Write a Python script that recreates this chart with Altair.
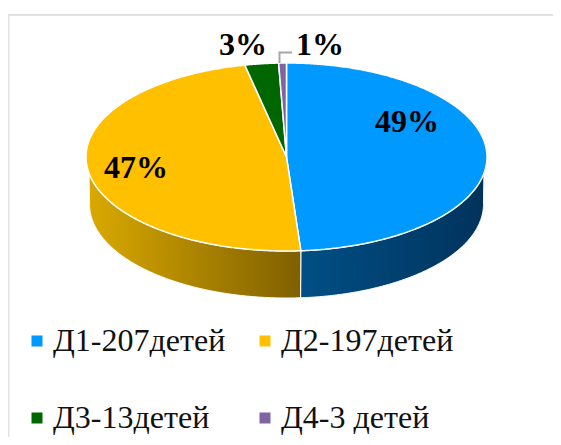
import math
import altair as alt

names = ["Д1-207детей", "Д2-197детей", "Д3-13детей", "Д4-3 детей"]
counts = [207, 197, 13, 3]
percents = ["49%", "47%", "3%", "1%"]
colors = ["#0099FF", "#FFC000", "#006600", "#8064A2"]
legend_order = [names[0], names[2], names[1], names[3]]

W, H = 545, 429
CX, CY = 286.5 - 8, 157 - 8
RX, RY, DEPTH = 200.5, 94, 47
RX_LOW = 197
SCREEN_EDGES = [0, 175.9, 348]


def px(x, y):
    return [x - 8 - CX, -(y - 8 - CY)]


total = sum(counts)
cum = [0]
for c in counts:
    cum.append(cum[-1] + c / total * 360)


def warp(a):
    src = [cum[0], cum[1], cum[2], 360]
    dst = SCREEN_EDGES + [360]
    for i in range(3):
        if a <= src[i + 1]:
            return dst[i] + (a - src[i]) * (dst[i + 1] - dst[i]) / (src[i + 1] - src[i])
    return 360


edges = [warp(a) for a in cum]


def pt(a, dy=0, rx=RX):
    r = math.radians(a)
    return [rx * math.sin(r), RY * math.cos(r) - dy]


def arc(a, b, dy=0, rx=RX):
    n = max(2, int(abs(b - a) * 2))
    return [pt(a + (b - a) * i / n, dy, rx) for i in range(n + 1)]


def feature(coords, name, kind="Polygon"):
    g = {"type": kind, "coordinates": [coords] if kind == "Polygon" else coords}
    return {"type": "Feature", "geometry": g, "properties": {"name": name}}


top = []
for i, nm in enumerate(names):
    ring = [[0, 0]] + arc(edges[i], edges[i + 1]) + [[0, 0]]
    top.append(feature(ring, nm))


def wall(a, b, low_a, low_b):
    ring = arc(a, b) + arc(low_b, low_a, DEPTH, RX_LOW)
    ring.append(ring[0])
    return feature(ring, "wall")


proj = dict(type="identity", reflectY=True, scale=1, translate=[CX, CY])


def grad(c1, c2):
    return alt.Gradient(
        gradient="linear", x1=0, x2=1, y1=0, y2=0,
        stops=[alt.GradientStop(color=c1, offset=0), alt.GradientStop(color=c2, offset=1)],
    )


blue_wall = alt.Chart(alt.Data(values=[wall(100, edges[1], 90, edges[1])])).mark_geoshape(
    fill=grad("#004f85", "#00335c"), stroke="white", strokeWidth=1
).project(**proj)
yellow_wall = alt.Chart(alt.Data(values=[wall(edges[1], 260, edges[1], 270)])).mark_geoshape(
    fill=grad("#d9a900", "#7f6000"), stroke="white", strokeWidth=1
).project(**proj)

slices = alt.Chart(alt.Data(values=top)).mark_geoshape(stroke="white", strokeWidth=1.5).encode(
    color=alt.Color(
        "properties.name:N",
        scale=alt.Scale(domain=names, range=colors),
        legend=alt.Legend(
            title=None, orient="none", legendX=13, legendY=317, columns=2,
            values=legend_order,
            symbolType="square", symbolSize=121, symbolStrokeWidth=0,
            labelFont="Liberation Serif", labelFontSize=32, labelColor="#111111",
            labelOffset=0, labelLimit=300, rowPadding=45, columnPadding=23,
        ),
    )
).project(**proj)

leader = alt.Chart(alt.Data(values=[feature([px(279.5, 63), px(279.5, 52.5), px(292, 52.5)], "leader", "LineString")])).mark_geoshape(
    filled=False, stroke="#a6a6a6", strokeWidth=2
).project(**proj)

frame = alt.Chart(alt.Data(values=[feature([px(8.5, 445), px(8.5, 15), px(561, 15)], "frame", "LineString")])).mark_geoshape(
    filled=False, stroke="#e2e2e2", strokeWidth=2
).project(**proj)

label_pos = [(407, 122), (136, 168), (243, 45), (320, 45)]
lab_rows = [
    {"t": t, "lon": px(*p)[0], "lat": px(*p)[1]} for t, p in zip(percents, label_pos)
]
labels = alt.Chart(alt.Data(values=lab_rows)).mark_text(
    font="Liberation Serif", fontWeight="bold", fontSize=32, color="#000000"
).encode(longitude="lon:Q", latitude="lat:Q", text="t:N").project(**proj)

chart = alt.layer(frame, blue_wall, yellow_wall, slices, leader, labels).properties(
    width=W, height=H, padding=0,
    autosize=alt.AutoSizeParams(type="none", contains="padding"),
).configure_view(stroke=None)

chart.save("out.html", embed_options={"renderer": "svg", "actions": False})
